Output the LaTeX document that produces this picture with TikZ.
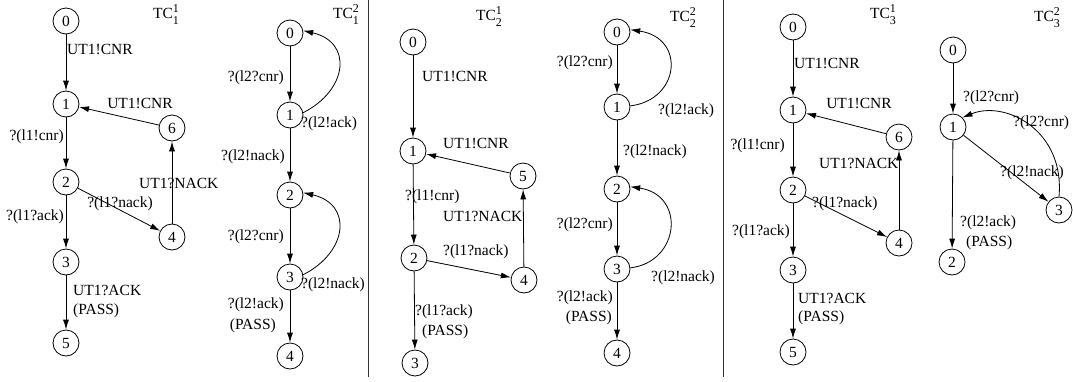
\documentclass[tikz,border=0pt]{standalone}
\usepackage{fontspec}
\setmainfont{Liberation Serif}
\usetikzlibrary{arrows.meta}
\newcommand\labfont{\fontsize{15.5}{18}\selectfont}
\newcommand\scrfont{\fontsize{12}{12}\selectfont}
\newcommand\tcsym[2]{TC\makebox[0pt][l]{\raisebox{6pt}{\scrfont #1}}\raisebox{-6pt}{\scrfont #2}}
\begin{document}
\begin{tikzpicture}[x=1pt,y=-1pt,
  st/.style={circle,draw,line width=0.8pt,minimum size=26pt,inner sep=0pt,font=\labfont},
  lb/.style={inner sep=0pt,font=\labfont},
  arr/.style={-{Latex[length=10pt,width=6pt]},line width=0.8pt},
  sep/.style={line width=1pt,black!80}]
\useasboundingbox (0,0) rectangle (1073,381);
\fill[white] (0,0) rectangle (1073,381);
% separators
\coordinate (s1t) at (368,0); \coordinate (s1b) at (368,377);
\coordinate (s2t) at (723,0); \coordinate (s2b) at (723,377);
\draw[sep] (s1t) -- (s1b);
\draw[sep] (s2t) -- (s2b);

% ---------- Panel 1 ----------
\node[st] (a0) at (66,21) {0};
\node[st] (a1) at (66,104) {1};
\node[st] (a6) at (172,128) {6};
\node[st] (a2) at (66,182) {2};
\node[st] (a4) at (172,237) {4};
\node[st] (a3) at (66,262) {3};
\node[st] (a5) at (66,343) {5};
\draw[arr] (a0) -- (a1);
\draw[arr] (a6) -- (a1);
\draw[arr] (a1) -- (a2);
\draw[arr] (a4) -- (a6);
\draw[arr] (a2) -- (a4);
\draw[arr] (a2) -- (a3);
\draw[arr] (a3) -- (a5);
\node[lb] (ta) at (166,15) {\tcsym{1}{1}};
\node[lb,anchor=west] (la1) at (67,49) {UT1!CNR};
\node[lb] (la2) at (140,103) {UT1!CNR};
\node[lb,anchor=east] (la3) at (64,137) {?(l1!cnr)};
\node[lb,anchor=west] (la4) at (139,183) {UT1?NACK};
\node[lb] (la5) at (120,204) {?(l1?nack)};
\node[lb,anchor=east] (la6) at (64,217) {?(l1?ack)};
\node[lb,anchor=west] (la7) at (73,290) {UT1?ACK};
\node[lb,anchor=west] (la8) at (73,311) {(PASS)};

% ---------- Panel 2 ----------
\node[st] (b0) at (290,33) {0};
\node[st] (b1) at (290,115) {1};
\node[st] (b2) at (290,195) {2};
\node[st] (b3) at (290,277) {3};
\node[st] (b4) at (290,356) {4};
\draw[arr] (b0) -- (b1);
\draw[arr] (b1.10) .. controls (348,90) and (353,42) .. (b0.10);
\draw[arr] (b1) -- (b2);
\draw[arr] (b2) -- (b3);
\draw[arr] (b3.10) .. controls (348,252) and (353,204) .. (b2.10);
\draw[arr] (b3) -- (b4);
\node[lb] (tb) at (346,15) {\tcsym{2}{1}};
\node[lb,anchor=east] (lb1) at (284,78) {?(l2?cnr)};
\node[lb,anchor=west] (lb2) at (301,124) {?(l2!ack)};
\node[lb,anchor=east] (lb3) at (285,157) {?(l2!nack)};
\node[lb,anchor=east] (lb4) at (284,237) {?(l2?cnr)};
\node[lb,anchor=west] (lb5) at (301,285) {?(l2!nack)};
\node[lb,anchor=east] (lb6) at (284,305) {?(l2!ack)};
\node[lb,anchor=east] (lb7) at (276,326) {(PASS)};

% ---------- Panel 3 ----------
\node[st] (c0) at (413,42) {0};
\node[st] (c1) at (413,151) {1};
\node[st] (c5) at (523,176) {5};
\node[st] (c2) at (414,258) {2};
\node[st] (c4) at (524,280) {4};
\node[st] (c3) at (415,363) {3};
\draw[arr] (c0) -- (c1);
\draw[arr] (c5) -- (c1);
\draw[arr] (c1) -- (c2);
\draw[arr] (c4) -- (c5);
\draw[arr] (c2) -- (c4);
\draw[arr] (c2) -- (c3);
\node[lb] (tc) at (489,17) {\tcsym{1}{2}};
\node[lb,anchor=west] (lc1) at (422,76) {UT1!CNR};
\node[lb,anchor=west] (lc2) at (443,143) {UT1!CNR};
\node[lb,anchor=west] (lc3) at (405,197) {?(l1!cnr)};
\node[lb,anchor=west] (lc4) at (443,216) {UT1?NACK};
\node[lb,anchor=west] (lc5) at (443,252) {?(l1?nack)};
\node[lb,anchor=west] (lc6) at (415,312) {?(l1?ack)};
\node[lb,anchor=west] (lc7) at (422,332) {(PASS)};

% ---------- Panel 4 ----------
\node[st] (d0) at (617,32) {0};
\node[st] (d1) at (617,107) {1};
\node[st] (d2) at (617,189) {2};
\node[st] (d3) at (617,269) {3};
\node[st] (d4) at (617,353) {4};
\draw[arr] (d0) -- (d1);
\draw[arr] (d1.5) .. controls (680,100) and (686,38) .. (d0.10);
\draw[arr] (d1) -- (d2);
\draw[arr] (d2) -- (d3);
\draw[arr] (d3.5) .. controls (680,262) and (686,195) .. (d2.10);
\draw[arr] (d3) -- (d4);
\node[lb] (td) at (683,18) {\tcsym{2}{2}};
\node[lb,anchor=east] (ld1) at (613,63) {?(l2?cnr)};
\node[lb,anchor=west] (ld2) at (658,111) {?(l2!ack)};
\node[lb,anchor=west] (ld3) at (623,152) {?(l2!nack)};
\node[lb,anchor=east] (ld4) at (613,225) {?(l2?cnr)};
\node[lb,anchor=west] (ld5) at (651,278) {?(l2!nack)};
\node[lb,anchor=east] (ld6) at (613,298) {?(l2!ack)};
\node[lb,anchor=east] (ld7) at (612,318) {(PASS)};

% ---------- Panel 5 ----------
\node[st] (e0) at (793,27) {0};
\node[st] (e1) at (793,110) {1};
\node[st] (e6) at (899,137) {6};
\node[st] (e2) at (793,190) {2};
\node[st] (e4) at (899,243) {4};
\node[st] (e3) at (793,270) {3};
\node[st] (e5) at (793,352) {5};
\draw[arr] (e0) -- (e1);
\draw[arr] (e6) -- (e1);
\draw[arr] (e1) -- (e2);
\draw[arr] (e4) -- (e6);
\draw[arr] (e2) -- (e4);
\draw[arr] (e2) -- (e3);
\draw[arr] (e3) -- (e5);
\node[lb] (te) at (883,15) {\tcsym{1}{3}};
\node[lb,anchor=west] (le1) at (794,63) {UT1!CNR};
\node[lb] (le2) at (859,103) {UT1!CNR};
\node[lb,anchor=east] (le3) at (785,146) {?(l1!cnr)};
\node[lb,anchor=west] (le4) at (819,163) {UT1?NACK};
\node[lb,anchor=west] (le5) at (812,204) {?(l1?nack)};
\node[lb,anchor=east] (le6) at (790,232) {?(l1?ack)};
\node[lb,anchor=west] (le7) at (798,298) {UT1?ACK};
\node[lb,anchor=west] (le8) at (798,318) {(PASS)};

% ---------- Panel 6 ----------
\node[st] (f0) at (953,50) {0};
\node[st] (f1) at (953,127) {1};
\node[st] (f3) at (1059,210) {3};
\node[st] (f2) at (952,262) {2};
\draw[arr] (f0) -- (f1);
\draw[arr] (f1) -- (f3);
\draw[arr] (f3.north) .. controls (1065,130) and (1005,100) .. (f1.45);
\draw[arr] (f1) -- (f2);
\node[lb] (tf) at (1047,18) {\tcsym{2}{3}};
\node[lb,anchor=west] (lf1) at (963,98) {?(l2?cnr)};
\node[lb,anchor=west] (lf2) at (1013,123) {?(l2?cnr)};
\node[lb,anchor=west] (lf3) at (1000,173) {?(l2!nack)};
\node[lb,anchor=west] (lf4) at (960,223) {?(l2!ack)};
\node[lb,anchor=west] (lf5) at (966,243) {(PASS)};
\end{tikzpicture}
\end{document}
